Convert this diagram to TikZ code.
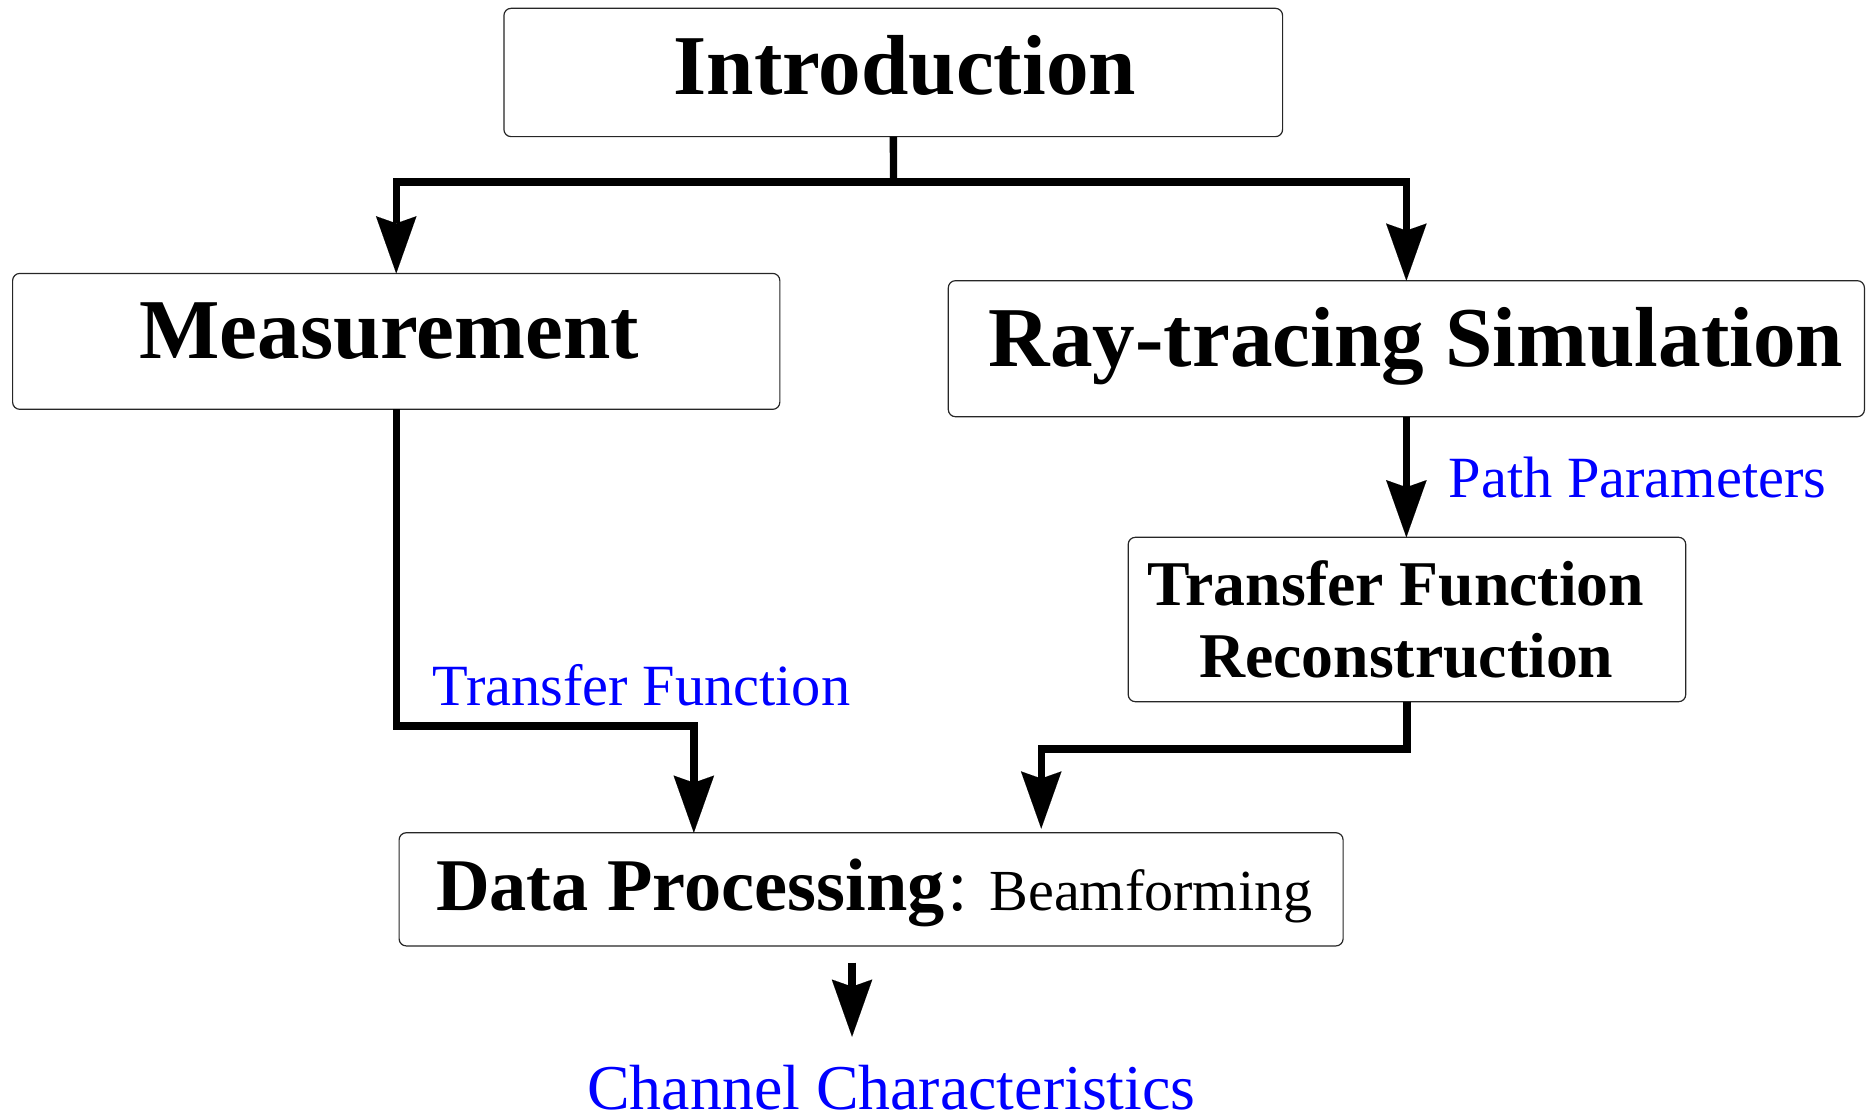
\documentclass[tikz,border=0pt]{standalone}
\usepackage{fontspec}
\setmainfont{Liberation Serif}
\usetikzlibrary{arrows.meta}

\newcommand\bigbf{\fontsize{35.75pt}{40pt}\selectfont\bfseries}
\newcommand\midbf{\fontsize{26.75pt}{30pt}\selectfont\bfseries}

\begin{document}
\begin{tikzpicture}[x=0.5pt,y=-0.5pt,
  box/.style={draw=black!85, line width=0.5pt, rounded corners=3pt,
              inner sep=0pt, outer sep=0pt, fill=white},
  txt/.style={anchor=base west, inner sep=0pt, outer sep=0pt},
  conn/.style={line width=3.1pt},
  arr/.style={conn, -{Stealth[length=24pt, width=17pt, inset=3pt, line width=0.01pt]}},
  lbl/.style={txt, text=blue, font=\fontsize{24.5pt}{28pt}\selectfont}]

\useasboundingbox (0,0) rectangle (1568,936);

% boxes
\node[box, minimum width=326.8pt, minimum height=53.85pt] (intro) at (749.8,60.85) {};
\node[box, minimum width=322pt,   minimum height=57.05pt] (meas)  at (332.6,286.55) {};
\node[box, minimum width=384.5pt, minimum height=57.1pt]  (ray)   at (1180.5,292.7) {};
\node[box, minimum width=234pt,   minimum height=69pt]    (tfr)   at (1181,520) {};
\node[box, minimum width=396.2pt, minimum height=47.5pt]  (data)  at (731.2,746.5) {};

% box titles
\node[txt, font=\bigbf] (introT) at (565.5,79.7)  {Introduction};
\node[txt, font=\bigbf] (measT)  at (117,300.8)   {Measurement};
\node[txt, font=\bigbf] (rayT)   at (830,307.8)   {Ray-tracing Simulation};
\node[txt, font=\midbf] (tfrA)   at (963.5,507.9) {Transfer Function};
\node[txt, font=\midbf] (tfrB)   at (1006.5,568.6) {Reconstruction};
\node[txt] (dataT) at (366,764)
  {\fontsize{31.2pt}{34pt}\selectfont\textbf{Data Processing}\kern1pt:\fontsize{24.4pt}{28pt}\selectfont{} \kern1pt Beamforming};

% blue labels
\node[lbl] (pathL) at (1216,417.8) {Path Parameters};
\node[lbl] (tfL)   at (363,591.8)  {Transfer Function};
\node[lbl, font=\fontsize{26.8pt}{30pt}\selectfont] (chanL) at (493,931) {Channel Characteristics};

% connectors
\coordinate (fork) at (750,152.8);
\draw[conn] (intro) -- (fork);
\draw[arr] (fork) -| (meas);
\draw[arr] (fork) -| (ray);

\coordinate (j1) at (582.4,609.4);
\draw[arr] (meas) |- (j1) -- (j1 |- data.north);

\draw[arr] (ray) -- (ray.south |- tfr.north);

\coordinate (j2)  at (874,628.7);
\coordinate (j2e) at (874,695.5);
\draw[arr] (tfr) |- (j2) -- (j2e);

\coordinate (c0) at (715.2,808);
\coordinate (c1) at (715.2,870.2);
\draw[arr] (c0) -- (c1);
\end{tikzpicture}
\end{document}
